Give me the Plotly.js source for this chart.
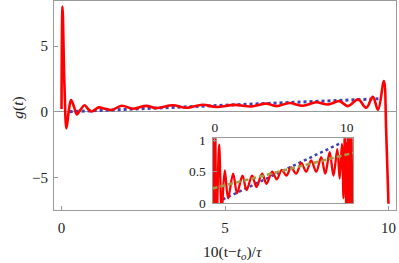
<!DOCTYPE html>
<html>
<head>
<meta charset="utf-8">
<script src="https://cdn.plot.ly/plotly-3.0.1.min.js"></script>
<style>html,body{margin:0;padding:0;background:#fff;}#plot{width:399px;height:263px;}</style>
</head>
<body>
<div id="plot"></div>
<script>
// Main plot: red response g(t)
const mainT = [0.0, 0.03, 0.09, 0.15, 0.22, 0.29, 0.38, 0.47, 0.58, 0.70, 0.80, 0.91, 1.02, 1.14, 1.34, 1.54, 1.84, 2.18, 2.59, 2.90, 3.40, 3.81, 4.32, 4.73, 5.30, 5.80, 6.26, 6.57, 6.97, 7.38, 7.79, 8.15, 8.50, 8.76, 9.07, 9.32, 9.52, 9.68, 9.86, 9.93, 10.0];
const mainG = [0.2, 8.0, 2.0, -1.27, 0.0, 0.89, 0.40, -0.20, 0.15, 0.49, 0.25, 0.02, 0.15, 0.33, 0.22, 0.13, 0.46, 0.23, 0.45, 0.28, 0.49, 0.30, 0.53, 0.36, 0.52, 0.40, 0.62, 0.43, 0.66, 0.46, 0.72, 0.55, 0.81, 0.43, 0.94, 0.30, 1.14, 0.15, 2.34, -1.5, -7.0];
// Main plot: blue dashed target ramp
const rampT = [0.25, 9.8];
const rampG = [0.0, 1.0];

// Inset: red curve
const insetT = [-0.17, -0.08, 0.02, 0.13, 0.33, 0.52, 0.76, 1.01, 1.39, 1.69, 2.10, 2.41, 2.83, 3.16, 3.59, 3.92, 4.35, 4.70, 5.08, 5.43, 5.79, 6.17, 6.56, 6.93, 7.31, 7.69, 8.07, 8.38, 8.71, 9.00, 9.29, 9.47, 9.64, 9.76, 9.87, 9.98, 10.08, 10.20, 10.32, 10.45];
const insetG = [1.6, -0.8, 1.6, -0.4, 0.93, -0.1, 0.52, 0.08, 0.47, 0.16, 0.44, 0.21, 0.44, 0.26, 0.47, 0.31, 0.50, 0.38, 0.53, 0.44, 0.57, 0.47, 0.64, 0.50, 0.68, 0.50, 0.73, 0.47, 0.81, 0.44, 0.86, 0.39, 0.94, 0.08, 1.3, -0.3, 1.5, -0.5, 1.6, -0.8];
// Inset: blue dotted ramp and olive dashed fit
const insetRampT = [0.6, 9.6];
const insetRampG = [0.06, 0.96];
const fitT = [-0.17, 10.5];
const fitG = [0.235, 0.80];

// Tick labels
const mainXTicks = [0, 5, 10];
const mainYTicks = [-5, 0, 5];
const insetXTicks = [0, 10];
const insetYTicks = [0, 0.5, 1];
const insetYTickText = ['0', '0.5', '1'];

const RED = '#ff0000', BLUE = '#4040b4', OLIVE = '#a39b45', FRAME = '#9a9a9a';
const SERIF = 'Liberation Serif';
const tickFont = {family: SERIF, size: 15, color: '#222'};
const insetFont = {family: SERIF, size: 13.5, color: '#222'};

const traces = [
  {x: rampT, y: rampG, mode: 'lines', line: {color: BLUE, width: 3, dash: 'dot'}, xaxis: 'x', yaxis: 'y', hoverinfo: 'skip'},
  {x: mainT, y: mainG, mode: 'lines', line: {color: RED, width: 2.6, shape: 'spline', smoothing: 1}, xaxis: 'x', yaxis: 'y', hoverinfo: 'skip'},
  {x: insetRampT, y: insetRampG, mode: 'lines', line: {color: BLUE, width: 2.5, dash: 'dot'}, xaxis: 'x2', yaxis: 'y2', hoverinfo: 'skip'},
  {x: insetT, y: insetG, mode: 'lines', line: {color: RED, width: 2.3, shape: 'spline', smoothing: 1}, xaxis: 'x2', yaxis: 'y2', hoverinfo: 'skip'},
  {x: fitT, y: fitG, mode: 'lines', line: {color: OLIVE, width: 2.5, dash: '5px,3px'}, xaxis: 'x2', yaxis: 'y2', hoverinfo: 'skip'}
];

const axisBase = {showgrid: false, zeroline: false, ticks: 'inside', ticklen: 4, tickcolor: FRAME, tickwidth: 1,
  showline: true, linecolor: FRAME, linewidth: 1, mirror: true, fixedrange: true};

const layout = {
  width: 399, height: 263,
  margin: {l: 54, r: 3, t: 1, b: 53},
  paper_bgcolor: '#fff', plot_bgcolor: '#fff',
  showlegend: false,
  font: {family: SERIF},
  xaxis: Object.assign({}, axisBase, {range: [-0.23, 10.23], tickvals: mainXTicks, tickfont: tickFont, ticklabelstandoff: 4}),
  yaxis: Object.assign({}, axisBase, {range: [-7.48, 8.43], tickvals: mainYTicks, tickfont: tickFont, zeroline: true, zerolinecolor: FRAME, zerolinewidth: 1, ticklabelstandoff: 2}),
  xaxis2: Object.assign({}, axisBase, {domain: [0.4636, 0.875], anchor: 'y2', side: 'top', range: [-0.17, 10.5], tickvals: insetXTicks, tickfont: insetFont, ticklabelstandoff: 0}),
  yaxis2: Object.assign({}, axisBase, {domain: [0.032, 0.343], anchor: 'x2', range: [0, 1.03], tickvals: insetYTicks, ticktext: insetYTickText, tickfont: insetFont, ticklabelstandoff: 3}),
  annotations: [
    {xref: 'paper', yref: 'paper', x: -0.106, y: 0.488, text: '<i>g</i>(<i>t</i>)', showarrow: false, textangle: -90,
     font: {family: SERIF, size: 15.5, color: '#222'}, xanchor: 'center', yanchor: 'middle'},
    {xref: 'paper', yref: 'paper', x: 0.523, y: -0.201, text: '10(t−<i>t</i><sub><i>o</i></sub>)/<i>τ</i>', showarrow: false,
     font: {family: SERIF, size: 15.5, color: '#222'}, xanchor: 'center', yanchor: 'middle'}
  ]
};

Plotly.newPlot('plot', traces, layout, {staticPlot: true, displayModeBar: false});
</script>
</body>
</html>
